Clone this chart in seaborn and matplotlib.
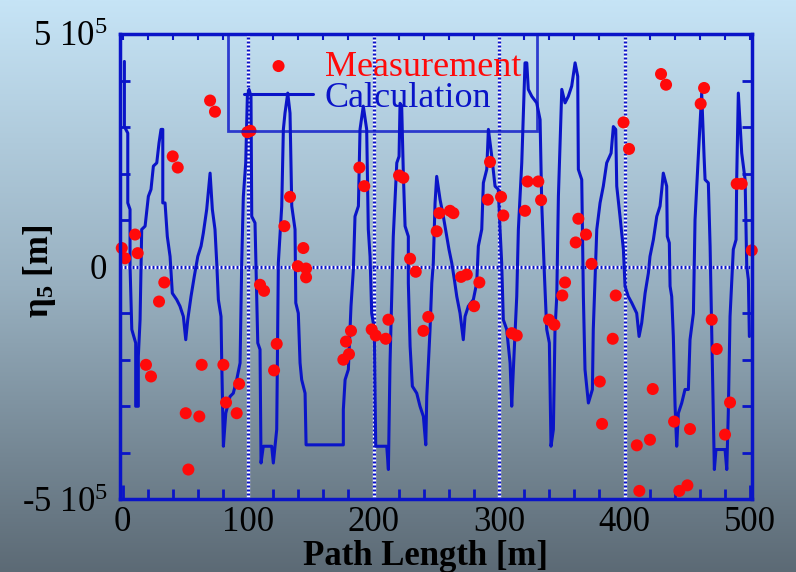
import numpy as np
import pandas as pd
import matplotlib
matplotlib.use("Agg")
import matplotlib.pyplot as plt
import seaborn as sns
from matplotlib.ticker import MultipleLocator, FixedLocator
from matplotlib.colors import to_rgb

# ---------------- data ----------------
path_calc = [1.4, 1.4, 4.1, 4.1, 5.9, 5.9, 7.3, 10.4, 10.4, 12.5, 12.5, 13.9, 15.2, 17.9, 20.5, 22.6,
             24.5, 27.2, 29.0, 30.6, 32.0, 32.0, 33.8, 35.6, 37.8, 39.6, 43.1, 45.7, 48.4, 50.3, 51.9,
             54.5, 57.1, 59.9, 62.5, 64.3, 67.0, 69.7, 71.5, 73.6, 75.0, 76.3, 78.4, 79.0, 80.3, 82.2,
             85.6, 88.2, 90.9, 93.6, 94.9, 96.2, 98.1, 99.4, 100.7, 102.3, 102.9, 105.5, 107.7, 109.5,
             110.3, 112.1, 118.8, 120.1, 122.8, 124.1, 126.8, 128.1, 129.4, 131.6, 133.4, 134.8, 137.4,
             138.0, 140.0, 141.4, 142.7, 145.4, 146.2, 175.9, 175.9, 177.3, 179.9, 182.0, 183.9, 185.2,
             187.9, 189.2, 191.8, 194.5, 195.8, 197.2, 198.5, 200.6, 201.7, 203.3, 210.5, 211.8, 213.1,
             214.5, 215.7, 218.5, 220.3, 221.1, 222.4, 223.7, 225.1, 227.7, 227.7, 229.1, 230.9, 234.4,
             237.0, 239.7, 241.6, 242.4, 245.0, 246.4, 247.6, 249.0, 250.3, 253.0, 255.6, 258.3, 260.1,
             262.3, 264.4, 266.3, 268.9, 271.5, 272.9, 275.5, 279.5, 282.2, 283.5, 286.2, 287.5, 290.2,
             291.5, 294.2, 296.8, 299.4, 300.8, 302.1, 303.4, 306.1, 308.8, 310.1, 311.4, 314.1, 315.4,
             318.1, 320.7, 322.1, 323.3, 326.1, 330.0, 332.7, 334.0, 336.1, 338.0, 340.1, 341.4, 343.3,
             344.6, 346.0, 347.3, 350.0, 352.6, 355.2, 357.9, 360.6, 362.7, 363.2, 365.9, 367.2, 368.5,
             371.2, 374.4, 375.1, 377.9, 380.5, 383.1, 385.8, 389.3, 391.1, 393.0, 393.8, 396.4, 399.1,
             400.4, 403.0, 405.8, 409.7, 411.6, 413.7, 416.4, 419.0, 420.3, 423.0, 425.7, 428.3, 429.7,
             430.9, 433.6, 434.1, 435.7, 436.3, 437.6, 438.9, 440.3, 441.6, 442.9, 445.6, 448.2, 450.9,
             452.2, 454.9, 456.2, 458.8, 461.5, 463.4, 464.2, 466.8, 468.2, 469.5, 470.8, 471.6, 472.9,
             480.1, 481.5, 482.7, 484.1, 486.7, 488.9, 489.4, 490.7, 493.4, 496.1, 497.4, 498.7, 499.5]

eta_calc = [441e3, 301e3, 287e3, 137e3, 123e3, 1e3, -135e3, -164e3, -300e3, -300e3, -193e3, -114e3,
            80e3, 87e3, 151e3, 166e3, 216e3, 223e3, 266e3, 295e3, 295e3, 137e3, 137e3, 65e3, 22e3,
            -57e3, -71e3, -85e3, -107e3, -157e3, -114e3, -64e3, -21e3, 22e3, 44e3, 72e3, 123e3, 201e3,
            123e3, 80e3, 8e3, -71e3, -107e3, -207e3, -386e3, -315e3, -279e3, -272e3, -243e3, -207e3,
            8e3, 151e3, 223e3, 366e3, 381e3, 366e3, 108e3, 94e3, -164e3, -178e3, -422e3, -386e3,
            -386e3, -422e3, -350e3, 8e3, 130e3, 295e3, 330e3, 373e3, 330e3, 130e3, 80e3, -78e3,
            -100e3, -207e3, -243e3, -272e3, -383e3, -383e3, -307e3, -243e3, -221e3, -85e3, -6e3,
            108e3, 130e3, 295e3, 345e3, 295e3, 80e3, 22e3, -100e3, -135e3, -386e3, -386e3, -386e3,
            -436e3, -207e3, -64e3, 65e3, 223e3, 237e3, 351e3, 345e3, 201e3, 87e3, 65e3, -35e3,
            -171e3, -257e3, -272e3, -300e3, -322e3, -383e3, -279e3, -135e3, -35e3, 8e3, 137e3, 194e3,
            144e3, 108e3, 65e3, 37e3, 8e3, -28e3, -64e3, -100e3, -157e3, -107e3, -85e3, -71e3, -35e3,
            44e3, 80e3, 180e3, 209e3, 295e3, 237e3, 173e3, 166e3, 80e3, 8e3, -114e3, -135e3, -207e3,
            -300e3, -221e3, -64e3, 80e3, 223e3, 438e3, 438e3, 381e3, 366e3, 352e3, 316e3, 137e3,
            -14e3, -135e3, -164e3, -386e3, -350e3, -135e3, -64e3, 151e3, 381e3, 352e3, 366e3, 388e3,
            438e3, 409e3, 209e3, 187e3, -64e3, -221e3, -293e3, -264e3, -135e3, 80e3, 137e3, 173e3,
            223e3, 244e3, 301e3, 295e3, 173e3, 108e3, 37e3, -42e3, -64e3, -78e3, -100e3, -150e3,
            -121e3, -57e3, -14e3, 22e3, 58e3, 108e3, 130e3, 166e3, 201e3, 173e3, 65e3, 51e3, -42e3,
            -64e3, -150e3, -300e3, -386e3, -315e3, -293e3, -264e3, -264e3, -157e3, -100e3, 101e3,
            237e3, 373e3, 237e3, 187e3, 180e3, 44e3, -135e3, -315e3, -436e3, -393e3, -393e3, -436e3,
            -315e3, -107e3, 37e3, 58e3, 187e3, 373e3, 244e3, 187e3, 1e3, -28e3, -150e3]

path_meas = [-0.7, 1.9, 9.9, 12.0, 18.6, 22.6, 29.0, 33.2, 39.9, 43.9, 50.3, 52.4, 61.1, 63.0, 69.7,
             73.6, 80.3, 82.4, 90.9, 92.8, 99.4, 101.9, 109.5, 112.7, 120.7, 122.8, 128.9, 133.4,
             139.6, 144.0, 146.2, 146.2, 175.9, 178.0, 180.4, 182.0, 188.7, 192.6, 198.5, 201.7,
             209.7, 211.8, 220.3, 223.7, 229.1, 233.6, 239.7, 243.6, 250.3, 252.4, 260.9, 263.6,
             269.7, 274.3, 280.1, 284.3, 291.0, 292.8, 301.6, 303.4, 310.1, 314.1, 320.7, 322.7,
             331.3, 333.5, 339.8, 344.1, 350.4, 352.6, 361.1, 363.2, 369.3, 373.7, 380.3, 382.1,
             390.6, 393.0, 399.2, 403.6, 409.8, 411.8, 420.3, 422.5, 429.1, 433.1, 439.5, 443.7,
             450.1, 452.2, 460.7, 463.4, 469.5, 473.5, 480.1, 484.1, 489.4, 493.4, 501.4]

eta_meas = [40e3, 18e3, 69e3, 29e3, -211e3, -236e3, -75e3, -34e3, 237e3, 213e3, -315e3, -436e3,
            -322e3, -211e3, 357e3, 333e3, -211e3, -292e3, -315e3, -252e3, 289e3, 292e3, -39e3,
            -52e3, -223e3, -166e3, 87e3, 150e3, 1e3, 40e3, -4e3, -23e3, -200e3, -161e3, -188e3,
            -138e3, 213e3, 173e3, -135e3, -148e3, -155e3, -114e3, 196e3, 191e3, 17e3, -11e3,
            -138e3, -108e3, 76e3, 115e3, 120e3, 115e3, -22e3, -17e3, -85e3, -34e3, 144e3, 225e3,
            150e3, 110e3, -143e3, -148e3, 120e3, 183e3, 183e3, 143e3, -114e3, -125e3, -62e3, -34e3,
            52e3, 103e3, 69e3, 6e3, -247e3, -338e3, -155e3, -62e3, 310e3, 253e3, -384e3, -482e3,
            -372e3, -263e3, 414e3, 391e3, -333e3, -482e3, -470e3, -349e3, 350e3, 384e3, -114e3,
            -177e3, -361e3, -292e3, 178e3, 178e3, 35e3]

x_ticks = [0, 100, 200, 300, 400, 500]
x_tick_labels = ["0", "100", "200", "300", "400", "500"]
y_ticks = [-5e5, 0, 5e5]
y_tick_labels = [r"-5 10$\mathregular{^5}$", "0", r"5 10$\mathregular{^5}$"]
grid_x = [100, 200, 300, 400]
grid_y = [0]
series_names = ["Measurement", "Calculation"]

# ---------------- style ----------------
BLUE = "#0a14c8"
RED = "#ff0a0a"

sns.set_theme(style="white")
plt.rcParams["font.family"] = ["Liberation Serif", "DejaVu Serif"]
plt.rcParams["mathtext.fontset"] = "custom"
plt.rcParams["mathtext.rm"] = "Liberation Serif"
plt.rcParams["mathtext.it"] = "Liberation Serif:italic"
plt.rcParams["mathtext.bf"] = "Liberation Serif:bold"

fig = plt.figure(figsize=(7.96, 5.72), dpi=100)

# gradient background
bg = fig.add_axes([0, 0, 1, 1], zorder=-10)
stops = [(0.0, to_rgb("#c6e4f6")), (0.5, to_rgb("#98b0c0")), (1.0, to_rgb("#5c6a75"))]
t = np.linspace(0, 1, 400)
grad = np.zeros((400, 1, 3))
for c in range(3):
    grad[:, 0, c] = np.interp(t, [s[0] for s in stops], [s[1][c] for s in stops])
bg.imshow(grad, aspect="auto", extent=[0, 1, 0, 1])
bg.set_axis_off()

ax = fig.add_axes([120 / 796, 1 - 499.3 / 572, 632 / 796, 465.3 / 572])
ax.set_facecolor("none")

# dotted grid (white + blue dashes)
for gx in grid_x:
    ax.axvline(gx, color="white", lw=2.4, zorder=1)
    ax.axvline(gx, color=BLUE, lw=2.4, ls=(0, (0.6, 0.6)), zorder=1.1)
for gy in grid_y:
    ax.axhline(gy, color="white", lw=2.4, zorder=1)
    ax.axhline(gy, color=BLUE, lw=2.4, ls=(0, (0.6, 0.6)), zorder=1.1)

df_calc = pd.DataFrame({"path": path_calc, "eta": eta_calc})
df_meas = pd.DataFrame({"path": path_meas, "eta": eta_meas})

sns.lineplot(data=df_calc, x="path", y="eta", sort=False, estimator=None, color=BLUE,
             lw=2.2, ax=ax, label=series_names[1], zorder=2)
sns.scatterplot(data=df_meas, x="path", y="eta", color=RED, s=75, edgecolor="none",
                ax=ax, label=series_names[0], zorder=3, clip_on=False)

ax.set_xlim(-2.1, 501.6)
ax.set_ylim(-5e5, 5e5)

ax.xaxis.set_major_locator(FixedLocator(x_ticks))
ax.set_xticklabels(x_tick_labels)
ax.xaxis.set_minor_locator(MultipleLocator(20))
ax.yaxis.set_major_locator(FixedLocator(y_ticks))
ax.set_yticklabels(y_tick_labels)
ax.yaxis.set_minor_locator(MultipleLocator(1e5))

ax.tick_params(axis="x", which="major", direction="in", length=10, width=2, color=BLUE,
               labelsize=25, labelcolor="black", pad=5, top=False, bottom=True)
ax.tick_params(axis="x", which="minor", direction="in", length=7, width=2, color=BLUE,
               top=False, bottom=True)
ax.tick_params(axis="y", which="major", direction="in", length=7, width=2, color=BLUE,
               labelsize=25, labelcolor="black", pad=9, left=True, right=False)
ax.tick_params(axis="y", which="minor", direction="in", length=7, width=2, color=BLUE,
               left=True, right=False)

sec_top = ax.secondary_xaxis("top")
sec_top.xaxis.set_major_locator(MultipleLocator(20))
sec_top.tick_params(direction="in", length=4, width=1.5, color=BLUE, labeltop=False)
sec_top.spines["top"].set_visible(False)
sec_right = ax.secondary_yaxis("right")
sec_right.yaxis.set_major_locator(MultipleLocator(1e5))
sec_right.tick_params(direction="in", length=7, width=2, color=BLUE, labelright=False)
sec_right.spines["right"].set_visible(False)

for sp in ax.spines.values():
    sp.set_visible(True)
    sp.set_color(BLUE)
    sp.set_linewidth(2.5)
    sp.set_zorder(4)

ax.set_xlabel("Path Length [m]", fontsize=25, fontweight="bold", color="black")
ax.xaxis.set_label_coords(0.484, -0.088)
ax.set_ylabel(r"$\mathbf{\eta}_{\mathbf{5}}$ [m]", fontsize=25, fontweight="bold", color="black")
ax.yaxis.set_label_coords(-0.098, 0.49)

handles, labels = ax.get_legend_handles_labels()
order = [labels.index(n) for n in series_names]
leg = ax.legend([handles[i] for i in order], [labels[i] for i in order],
                loc="upper left", bbox_to_anchor=((228 - 120) / 632, 1.0), borderaxespad=0,
                fontsize=26, handlelength=1.9, handletextpad=0.33, borderpad=0.45,
                labelspacing=-0.05, fancybox=False, frameon=True)
leg.get_frame().set_facecolor("none")
leg.get_frame().set_edgecolor(BLUE)
leg.get_frame().set_linewidth(2)
for txt, col in zip(leg.get_texts(), [RED, BLUE]):
    txt.set_color(col)

fig.savefig("out.png", dpi=100)
